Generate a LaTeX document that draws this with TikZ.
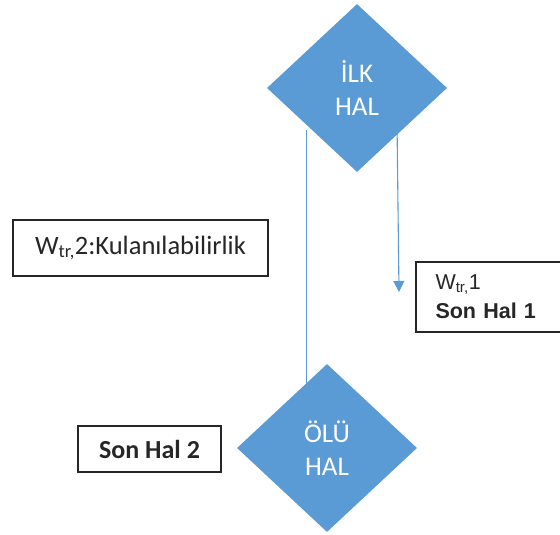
\documentclass[tikz,border=0pt]{standalone}
\usepackage{fontspec}
\setmainfont{Carlito}
\newfontfamily\arialfont{Liberation Sans}
\usetikzlibrary{shapes.geometric,arrows.meta,backgrounds}
\definecolor{hblue}{HTML}{5B9BD5}
\definecolor{btext}{HTML}{262626}

\begin{document}
\begin{tikzpicture}[x=1pt, y=-1pt,
    state/.style={diamond, fill=hblue, draw=none, minimum width=180, minimum height=168, inner sep=0pt, text=white, align=center, font=\fontsize{27}{33}\selectfont},
    lbl/.style={draw=btext, line width=1.3pt, rectangle, inner sep=0pt, text=btext},
    flow/.style={draw=hblue, line width=1.1pt}]
    \useasboundingbox (0,0) rectangle (560,535);
    \clip (0,0) rectangle (560,535);
    % states
    \node[state] (ilk) at (357,88) {İLK\\HAL};
    \node[state] (olu) at (327,448) {ÖLÜ\\HAL};

    % labels
    \node[lbl, minimum width=255, minimum height=56, font=\fontsize{26.5}{30}\selectfont] (w2) at (140.5,248) {W\textsubscript{tr,}2:Kulanılabilirlik};
    \node[lbl, minimum width=164, minimum height=70, text width=125, align=left, font=\arialfont\fontsize{21.5}{29}\selectfont] (son1) at (498,297) {W\textsubscript{tr,}1\\\textbf{Son Hal 1}};
    \node[lbl, minimum width=143, minimum height=46, font=\bfseries\fontsize{26}{30}\selectfont] (son2) at (149.5,449) {Son Hal 2};

    % transitions
    \coordinate (tip) at (399,292);
    \begin{scope}[on background layer]
        \draw[flow] ([xshift=-5]ilk.south west) -- ([xshift=-5]ilk.south west |- olu);
        \draw[flow, -{Triangle[width=11, length=11]}] ([xshift=-5]ilk.south east) -- (tip);
    \end{scope}
\end{tikzpicture}
\end{document}
